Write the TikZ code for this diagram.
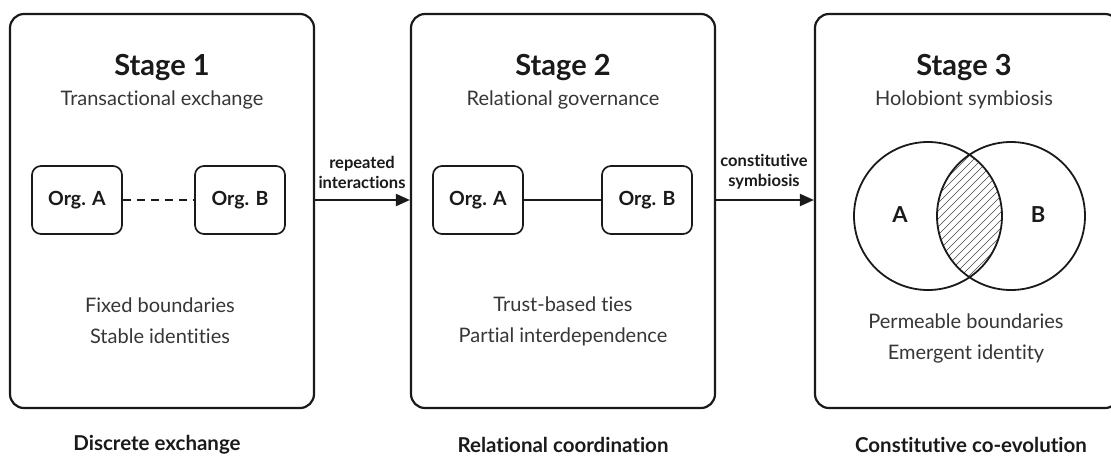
\documentclass[tikz,border=0pt]{standalone}
\usepackage{fontspec}
\setmainfont{Lato}[Ligatures={NoCommon,NoRare,NoContextual}]
\usetikzlibrary{arrows.meta}
\definecolor{ink}{HTML}{1A1A1A}
\tikzset{
  bigbox/.style={draw=ink, line width=2.2pt, rounded corners=14pt, minimum width=304pt, minimum height=394pt},
  orgbox/.style={draw=ink, line width=1.7pt, rounded corners=9pt, minimum width=90pt, minimum height=68pt, font=\bfseries\fontsize{19.5}{22}\selectfont, text=ink},
  title/.style={font=\bfseries\fontsize{29}{32}\selectfont, text=ink},
  subtitle/.style={font=\fontsize{20}{24}\selectfont, text=ink!88},
  desc/.style={font=\fontsize{20}{31}\selectfont, text=ink!88, align=center},
  arrlabel/.style={font=\bfseries\fontsize{16.5}{20}\selectfont, text=ink, align=center},
  footlabel/.style={font=\bfseries\fontsize{20.5}{24}\selectfont, text=ink},
  arr/.style={draw=ink, line width=2pt, -{Triangle[length=14pt,width=12pt]}},
  link/.style={draw=ink, line width=1.7pt},
  venn/.style={draw=ink, line width=1.8pt, circle, minimum size=148pt, inner sep=0pt},
}
\begin{document}
\begin{tikzpicture}[x=1pt,y=-1pt]
\clip (0,0) rectangle (1111,459);
\fill[white] (0,0) rectangle (1111,459);
% stage boxes
\node[bigbox] (s1) at (162,211) {};
\node[bigbox] (s2) at (563,211) {};
\node[bigbox] (s3) at (967,211) {};
% titles
\node[title] (t1) at (162,68) {Stage 1};
\node[subtitle] (u1) at (162,100) {Transactional exchange};
\node[title] (t2) at (563,68) {Stage 2};
\node[subtitle] (u2) at (563,100) {Relational governance};
\node[title] (t3) at (964,68) {Stage 3};
\node[subtitle] (u3) at (964,100) {Holobiont symbiosis};
% stage 1 orgs
\node[orgbox] (a1) at (77,200) {Org. A};
\node[orgbox] (b1) at (240,200) {Org. B};
\draw[link, dash pattern=on 8pt off 6pt] (a1.east) -- (b1.west);
% stage 2 orgs
\node[orgbox] (a2) at (478,200) {Org. A};
\node[orgbox] (b2) at (647,200) {Org. B};
\draw[link] (a2.east) -- (b2.west);
% descriptions
\node[desc] (d1) at (160,321) {Fixed boundaries\\Stable identities};
\node[desc] (d2) at (563,321) {Trust-based ties\\Partial interdependence};
\node[desc] (d3) at (966,338) {Permeable boundaries\\Emergent identity};
% arrows
\draw[arr] (s1.east |- a1.center) -- (s2.west |- a1.center);
\draw[arr] (s2.east |- a2.center) -- (s3.west |- a2.center);
\node[arrlabel] (l1) at (362,172) {repeated\\interactions};
\node[arrlabel] (l2) at (764,172) {constitutive\\symbiosis};
% venn
\begin{scope}
\clip (928,216) circle (74);
\clip (1011,216) circle (74);
\foreach \i in {-300,-292,...,300} {
  \draw[ink!80, line width=0.6pt] (969+\i-150,216+150) -- (969+\i+150,216-150);
}
\end{scope}
\node[venn] (ca) at (928,216) {};
\node[venn] (cb) at (1011,216) {};
\node[font=\bfseries\fontsize{22}{24}\selectfont, text=ink] (la) at (900,215) {A};
\node[font=\bfseries\fontsize{22}{24}\selectfont, text=ink] (lb) at (1038,215) {B};
% footer labels
\node[footlabel] (f1) at (157,445) {Discrete exchange};
\node[footlabel] (f2) at (563,445) {Relational coordination};
\node[footlabel] (f3) at (971,445) {Constitutive co-evolution};
\end{tikzpicture}
\end{document}
